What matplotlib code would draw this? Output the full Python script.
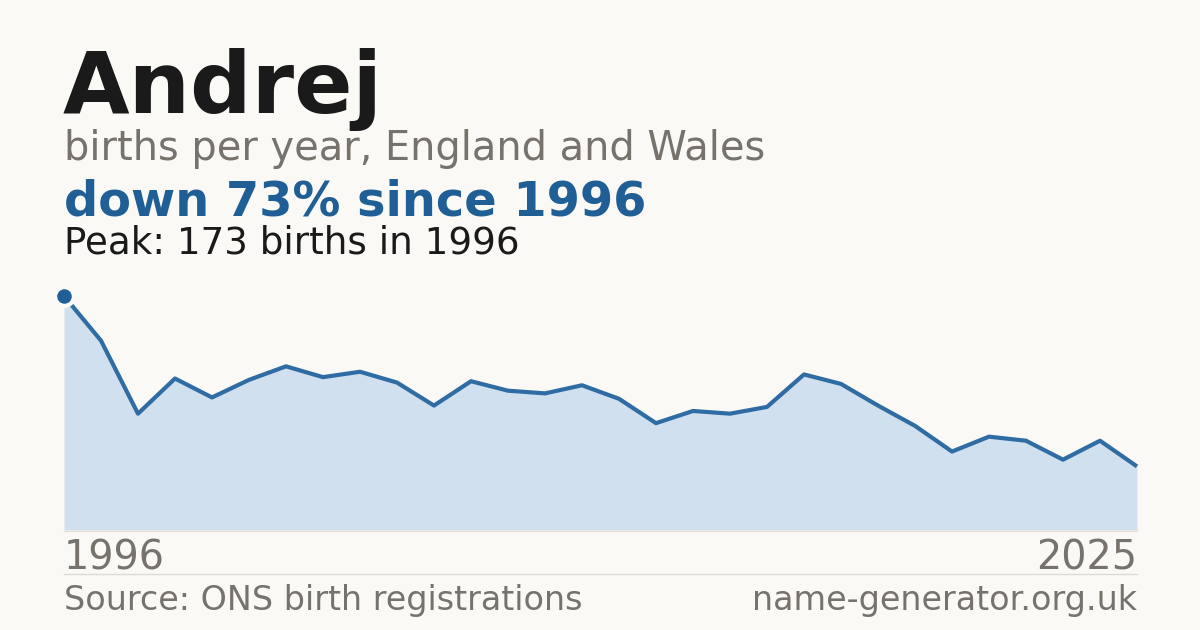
import matplotlib.pyplot as plt
import numpy as np

years = np.arange(1996, 2026)
births = [173, 140, 86, 112, 98, 111, 121, 113, 117, 109,
          92, 110, 103, 101, 107, 97, 79, 88, 86, 91,
          115, 108, 92, 77, 58, 69, 66, 52, 66, 47]

name = "Andrej"
subtitle = "births per year, England and Wales"
source = "Source: ONS birth registrations"
site = "name-generator.org.uk"

bg = "#faf9f5"
blue = "#1f5f96"
grey = "#77726b"
ink = "#1a1a1a"

W, H = 1200, 630
fig = plt.figure(figsize=(W / 100, H / 100), dpi=100, facecolor=bg)

def px(x, y):
    return x / W, 1 - y / H

peak_i = int(np.argmax(births))
change = round((births[-1] - births[0]) / births[0] * 100)

# headline text
fig.text(*px(63, 113), name, fontsize=62, fontweight="bold", color=ink)
fig.text(*px(64, 160), subtitle, fontsize=28.7, color=grey)
fig.text(*px(64, 215), f"down {abs(change)}% since {years[0]}", fontsize=34.5,
         fontweight="bold", color=blue)
fig.text(*px(64, 254), f"Peak: {births[peak_i]} births in {years[peak_i]}",
         fontsize=26.8, color=ink)

# area chart
ax = fig.add_axes([64 / W, 1 - 530 / H, (1137 - 64) / W, (530 - 296) / H])
ax.set_facecolor(bg)
ax.fill_between(years, births, 0, color="#d0e0ef", lw=0)
ax.plot(years, births, color="#2f6ca4", lw=3, solid_capstyle="butt", clip_on=False)
ax.plot(years[peak_i], births[peak_i], "o", ms=13.5, color=blue, mec=bg, mew=3,
        clip_on=False, zorder=5)
ax.set_xlim(years[0], years[-1])
ax.set_ylim(0, max(births))
ax.axis("off")

# baseline and footer
fig.add_artist(plt.Line2D([64 / W, 1137 / W], [1 - 530.5 / H] * 2, color="#e6e0d6", lw=1))
fig.text(*px(64, 570), str(years[0]), fontsize=28.6, color=grey)
fig.text(*px(1137, 570), str(years[-1]), fontsize=28.6, color=grey, ha="right")
fig.add_artist(plt.Line2D([64 / W, 1137 / W], [1 - 574 / H] * 2, color="#dedbd5", lw=1))
fig.text(*px(64, 610), source, fontsize=24, color=grey)
fig.text(*px(1137, 610), site, fontsize=24, color=grey, ha="right")

fig.savefig("out.png", dpi=100, facecolor=bg)
